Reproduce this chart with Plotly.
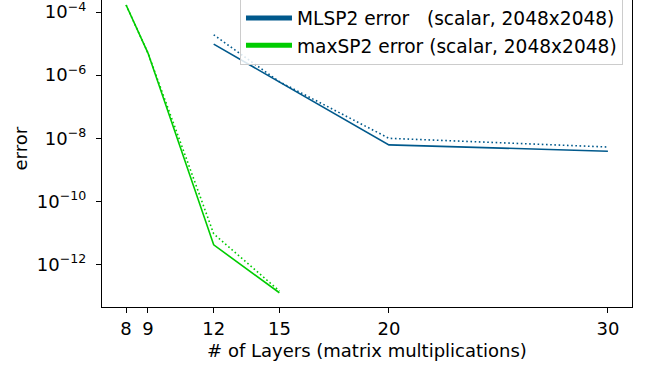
import plotly.graph_objects as go

# Data
layers_ml = [12, 15, 20, 30]
mlsp2_err = [9.6e-6, 6.0e-7, 6.2e-9, 3.9e-9]
mlsp2_err_dot = [1.9e-5, 6.2e-7, 1.0e-8, 5.3e-9]

layers_max = [8, 9, 12, 15]
maxsp2_err = [1.67e-4, 5.0e-6, 4.2e-12, 1.28e-13]
maxsp2_err_dot = [1.67e-4, 5.0e-6, 9.4e-12, 1.45e-13]

x_ticks = [8, 9, 12, 15, 20, 30]
y_exps = [-4, -6, -8, -10, -12]

BLUE = "#00598c"
GREEN = "#00cc00"
FONT = "DejaVu Sans"

fig = go.Figure()
fig.add_trace(go.Scatter(x=layers_ml, y=mlsp2_err, mode="lines",
                         line=dict(color=BLUE, width=1.6), showlegend=False))
fig.add_trace(go.Scatter(x=layers_ml, y=mlsp2_err_dot, mode="lines",
                         line=dict(color=BLUE, width=1.6, dash="1.6px,2.6px"), showlegend=False))
fig.add_trace(go.Scatter(x=layers_max, y=maxsp2_err, mode="lines",
                         line=dict(color=GREEN, width=1.6), showlegend=False))
fig.add_trace(go.Scatter(x=layers_max, y=maxsp2_err_dot, mode="lines",
                         line=dict(color=GREEN, width=1.6, dash="1.6px,2.6px"), showlegend=False))

# legend entries
fig.add_trace(go.Scatter(x=[None], y=[None], mode="lines", line=dict(color=BLUE, width=5),
                         name="MLSP2 error\u00a0\u00a0\u00a0(scalar, 2048x2048)"))
fig.add_trace(go.Scatter(x=[None], y=[None], mode="lines", line=dict(color=GREEN, width=5),
                         name="maxSP2 error (scalar, 2048x2048)"))

fig.update_layout(
    width=647, height=372,
    margin=dict(l=102, r=15, t=0, b=65, autoexpand=False),
    paper_bgcolor="white", plot_bgcolor="white",
    font=dict(family=FONT, size=18, color="black"),
    legend=dict(x=0.983, xanchor="right", y=1.005, yanchor="top",
                bgcolor="rgba(255,255,255,0.85)", bordercolor="#cccccc", borderwidth=1,
                font=dict(size=18.6), itemwidth=46, tracegroupgap=0),
    annotations=[dict(text="error", xref="paper", yref="paper",
                      x=(20 - 102) / 530.0, y=1 - 148.5 / 307.0,
                      xanchor="center", yanchor="middle", textangle=-90,
                      showarrow=False, font=dict(family=FONT, size=18))],
)
fig.update_xaxes(range=[6.9, 31.1], tickvals=x_ticks, ticktext=[str(v) for v in x_ticks],
                 automargin=False, ticklabeloverflow="allow",
                 showgrid=False, zeroline=False, showline=True, linecolor="black", linewidth=1.2,
                 mirror=False, ticks="outside", ticklen=5, tickwidth=1.2, tickcolor="black",
                 title=dict(text="# of Layers (matrix multiplications)", standoff=6,
                            font=dict(family=FONT, size=18)))
fig.update_yaxes(type="log", range=[-13.345, -3.619],
                 automargin=False, ticklabeloverflow="allow", ticklabelstandoff=6,
                 tickvals=[10.0 ** e for e in y_exps],
                 ticktext=["10<sup>\u2212%d</sup>" % (-e) for e in y_exps],
                 showgrid=False, zeroline=False, showline=True, linecolor="black", linewidth=1.2,
                 mirror=True, ticks="outside", ticklen=5, tickwidth=1.2, tickcolor="black")

fig.write_html("out.html")
